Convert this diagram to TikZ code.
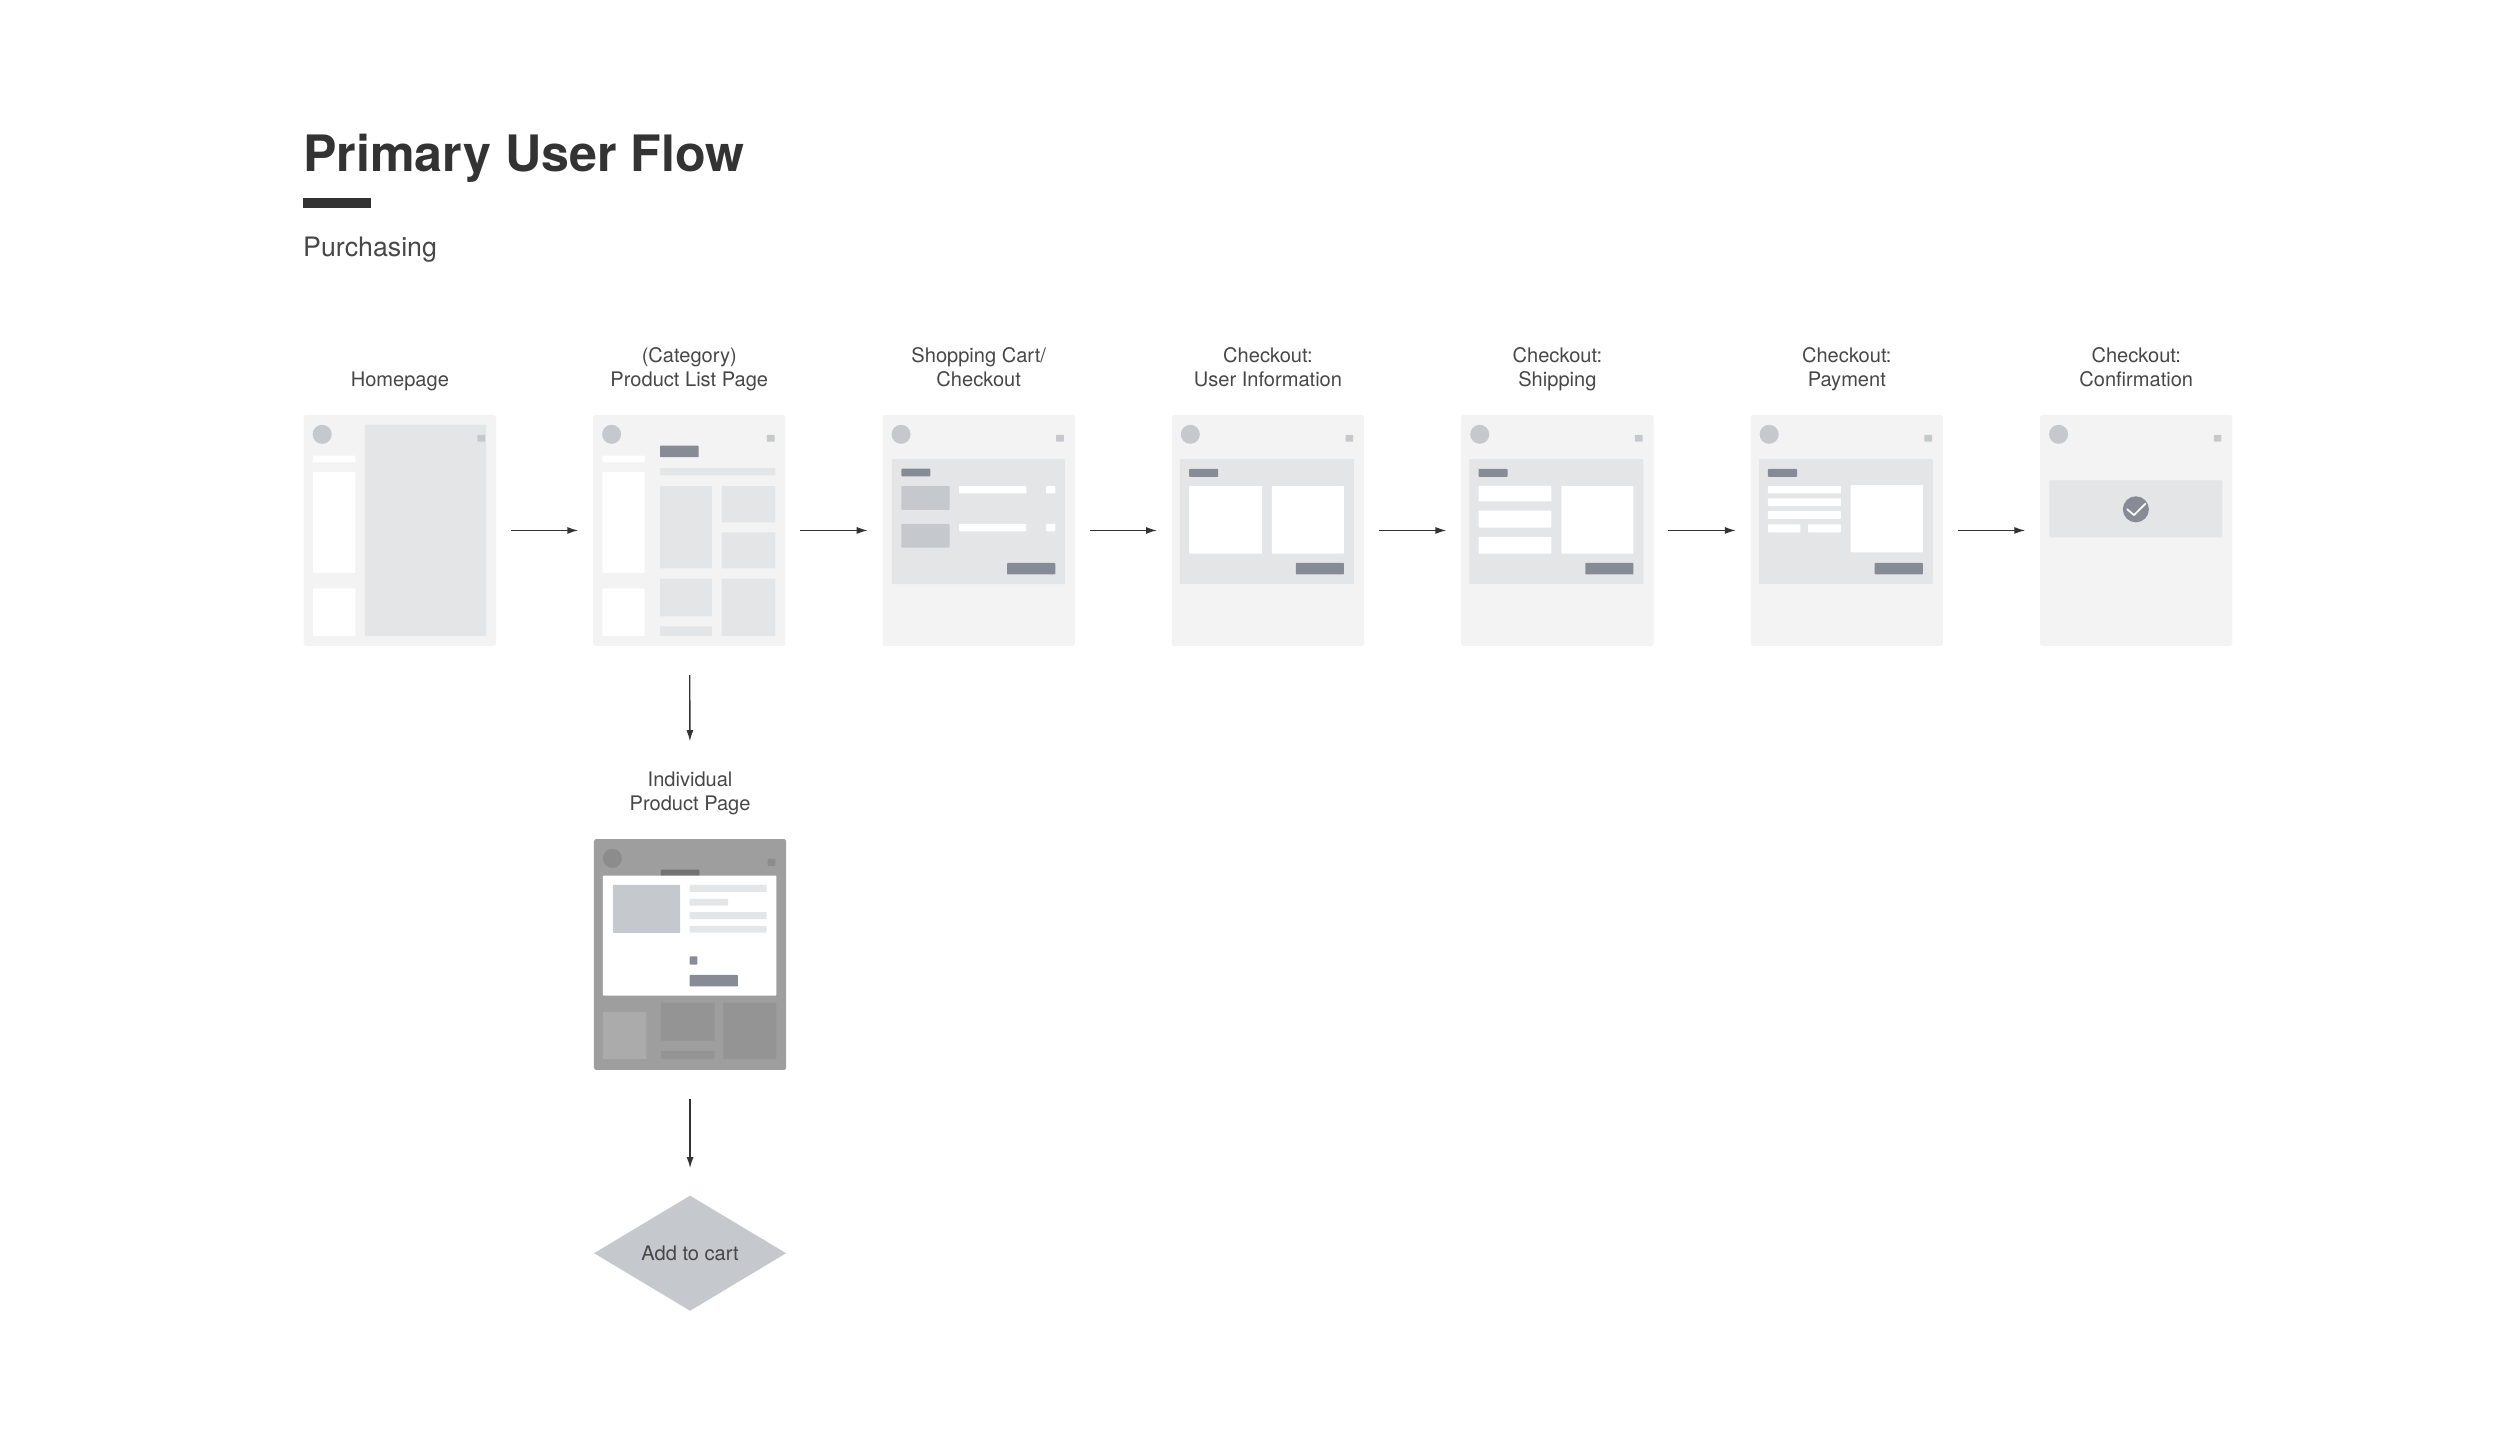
\documentclass[tikz,border=0pt]{standalone}
\usepackage{fontspec}
\setmainfont{TeX Gyre Heros}
\usetikzlibrary{shapes.geometric}
\usetikzlibrary{arrows.meta}
\usepackage{xcolor}

\definecolor{ink}{HTML}{333333}
\definecolor{txt}{HTML}{474747}
\definecolor{cardbg}{HTML}{F3F3F3}
\definecolor{panel}{HTML}{E4E5E6}
\definecolor{mid}{HTML}{C5C8CD}
\definecolor{slate}{HTML}{868B96}
\definecolor{shade}{HTML}{9E9E9E}

% filled block inside a screen, in card fractions
\newcommand{\ui}[5]{\fill[#5, rounded corners=0.4pt] (#1,#2) rectangle (#3,#4);}
% avatar circle and corner icon of a screen
\newcommand{\chrome}[1]{%
    \fill[#1] (0.098,0.085) circle[radius=0.19cm];
    \ui{0.905}{0.087}{0.945}{0.117}{#1}}

\begin{document}
\begin{tikzpicture}[x=0.032cm, y=-0.032cm]
        % ================= styles =================
        \tikzset{
            screen/.style={fill=cardbg, minimum width=3.84cm, minimum height=4.608cm, inner sep=0pt, rounded corners=1pt},
            caption/.style={font=\fontsize{11.4}{13.6}\selectfont, text=txt, align=center, inner sep=0pt, text depth=0pt, anchor=south},
            flow/.style={draw=ink, line width=0.8pt, -{Latex[length=2.2mm, width=1.4mm]}, shorten <=2.88mm, shorten >=2.88mm},
            decision/.style={diamond, fill=mid, minimum width=3.84cm, minimum height=2.304cm, inner sep=0pt, font=\fontsize{11.4}{13.6}\selectfont, text=txt}
        }
        \useasboundingbox (0,0) rectangle (1560,900);

        % ================= heading =================
        \node[anchor=base west, inner sep=0pt, font=\fontsize{28.5}{34}\selectfont\bfseries, text=ink] (title) at (189,107) {Primary User Flow};
        \fill[ink] (189,123.5) rectangle (231.5,130);
        \node[anchor=base west, inner sep=0pt, font=\fontsize{15.2}{18}\selectfont, text=txt] (sub) at (189,160) {Purchasing};

        % ================= screens =================
        \node[screen] (hp) at (249.5,331) {};
        \node[screen] (plp) at (430.1,331) {};
        \node[screen] (cart) at (610.7,331) {};
        \node[screen] (info) at (791.2,331) {};
        \node[screen] (ship) at (971.8,331) {};
        \node[screen] (pay) at (1152.4,331) {};
        \node[screen] (conf) at (1333,331) {};
        \node[screen, fill=shade] (ipp) at (430.6,595.6) {};
        \node[decision] (add) at (430.6,782) {Add to cart};

        % captions
        \node[caption] (hpl) at (249.5,241.2) {Homepage};
        \node[caption] (plpl) at (430.1,241.2) {(Category)\\Product List Page};
        \node[caption] (cartl) at (610.7,241.2) {Shopping Cart/\\Checkout};
        \node[caption] (infol) at (791.2,241.2) {Checkout:\\User Information};
        \node[caption] (shipl) at (971.8,241.2) {Checkout:\\Shipping};
        \node[caption] (payl) at (1152.4,241.2) {Checkout:\\Payment};
        \node[caption] (confl) at (1333,241.2) {Checkout:\\Confirmation};
        \node[caption] (ippl) at (430.6,505.8) {Individual\\Product Page};

        % ================= screen contents =================
        % homepage
        \begin{scope}[shift={(hp.north west)}, x=3.84cm, y=-4.608cm]
            \ui{0.32}{0.043}{0.95}{0.958}{panel}
            \chrome{mid}
            \ui{0.05}{0.177}{0.27}{0.207}{white}
            \ui{0.05}{0.248}{0.27}{0.685}{white}
            \ui{0.05}{0.752}{0.27}{0.958}{white}
        \end{scope}
        % product list
        \begin{scope}[shift={(plp.north west)}, x=3.84cm, y=-4.608cm]
            \chrome{mid}
            \ui{0.05}{0.177}{0.27}{0.207}{white}
            \ui{0.05}{0.248}{0.27}{0.685}{white}
            \ui{0.05}{0.752}{0.27}{0.958}{white}
            \ui{0.35}{0.134}{0.55}{0.184}{slate}
            \ui{0.35}{0.231}{0.95}{0.263}{panel}
            \ui{0.35}{0.309}{0.62}{0.666}{panel}
            \ui{0.35}{0.71}{0.62}{0.874}{panel}
            \ui{0.35}{0.917}{0.62}{0.958}{panel}
            \ui{0.67}{0.309}{0.95}{0.467}{panel}
            \ui{0.67}{0.51}{0.95}{0.666}{panel}
            \ui{0.67}{0.71}{0.95}{0.958}{panel}
        \end{scope}
        % cart
        \begin{scope}[shift={(cart.north west)}, x=3.84cm, y=-4.608cm]
            \chrome{mid}
            \ui{0.05}{0.192}{0.95}{0.734}{panel}
            \ui{0.10}{0.234}{0.25}{0.267}{slate}
            \foreach \y in {0.309,0.473} {
                \ui{0.10}{\y}{0.35}{\y+0.103}{mid}
                \ui{0.40}{\y}{0.75}{\y+0.032}{white}
                \ui{0.853}{\y}{0.9}{\y+0.032}{white}
            }
            \ui{0.65}{0.642}{0.9}{0.692}{slate}
        \end{scope}
        % user information, shipping, payment share the panel
        \foreach \card in {info,ship,pay} {
            \begin{scope}[shift={(\card.north west)}, x=3.84cm, y=-4.608cm]
                \chrome{mid}
                \ui{0.044}{0.192}{0.949}{0.733}{panel}
                \ui{0.092}{0.235}{0.243}{0.269}{slate}
                \ui{0.647}{0.642}{0.897}{0.692}{slate}
            \end{scope}
        }
        \begin{scope}[shift={(info.north west)}, x=3.84cm, y=-4.608cm]
            \ui{0.092}{0.309}{0.471}{0.602}{white}
            \ui{0.522}{0.309}{0.897}{0.602}{white}
        \end{scope}
        \begin{scope}[shift={(ship.north west)}, x=3.84cm, y=-4.608cm]
            \ui{0.092}{0.308}{0.471}{0.376}{white}
            \ui{0.092}{0.416}{0.471}{0.489}{white}
            \ui{0.092}{0.529}{0.471}{0.602}{white}
            \ui{0.522}{0.309}{0.897}{0.602}{white}
        \end{scope}
        \begin{scope}[shift={(pay.north west)}, x=3.84cm, y=-4.608cm]
            \ui{0.092}{0.309}{0.471}{0.341}{white}
            \ui{0.092}{0.363}{0.471}{0.396}{white}
            \ui{0.092}{0.418}{0.471}{0.451}{white}
            \ui{0.092}{0.475}{0.26}{0.51}{white}
            \ui{0.3}{0.475}{0.471}{0.51}{white}
            \ui{0.522}{0.305}{0.897}{0.597}{white}
        \end{scope}
        % confirmation
        \begin{scope}[shift={(conf.north west)}, x=3.84cm, y=-4.608cm]
            \chrome{mid}
            \ui{0.05}{0.285}{0.95}{0.532}{panel}
            \fill[slate] (0.5,0.41) circle[radius=0.26cm];
            \draw[white, line width=1pt, line cap=round, line join=round]
                (0.455,0.41) -- (0.49,0.435) -- (0.55,0.385);
        \end{scope}
        % individual product page
        \begin{scope}[shift={(ipp.north west)}, x=3.84cm, y=-4.608cm]
            \chrome{black!45}
            \ui{0.35}{0.134}{0.55}{0.165}{black!55}
            \ui{0.049}{0.16}{0.95}{0.68}{white}
            \ui{0.1}{0.2}{0.45}{0.408}{mid}
            \ui{0.5}{0.2}{0.9}{0.23}{panel}
            \ui{0.5}{0.26}{0.7}{0.29}{panel}
            \ui{0.5}{0.318}{0.9}{0.348}{panel}
            \ui{0.5}{0.377}{0.9}{0.407}{panel}
            \ui{0.5}{0.51}{0.54}{0.545}{slate}
            \ui{0.5}{0.59}{0.75}{0.64}{slate}
            \ui{0.049}{0.75}{0.275}{0.955}{black!33}
            \ui{0.35}{0.71}{0.63}{0.875}{black!42}
            \ui{0.35}{0.92}{0.63}{0.955}{black!42}
            \ui{0.675}{0.71}{0.95}{0.955}{black!42}
        \end{scope}

        % ================= connectors =================
        \draw[flow] (hp) -- (plp);
        \draw[flow] (plp) -- (cart);
        \draw[flow] (cart) -- (info);
        \draw[flow] (info) -- (ship);
        \draw[flow] (ship) -- (pay);
        \draw[flow] (pay) -- (conf);
        \draw[flow, shorten <=5.76mm, shorten >=6mm] (plp) -- (ippl);
        \draw[flow, shorten <=5.76mm, shorten >=5.4mm] (ipp) -- (add);
    \end{tikzpicture}
\end{document}
